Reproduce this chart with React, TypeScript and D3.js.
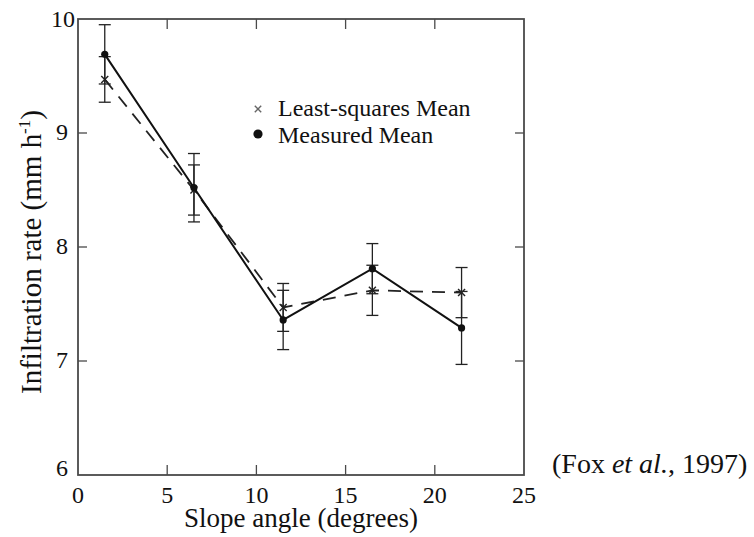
import React from 'react';
import { scaleLinear, line } from 'd3';

// slope angle (degrees) for each treatment
const slopes = [1.5, 6.5, 11.5, 16.5, 21.5];
// measured mean infiltration rate (mm/h) and half-length of its error bar
const measured = [9.69, 8.52, 7.36, 7.81, 7.29];
const measuredErr = [0.26, 0.3, 0.26, 0.22, 0.32];
// least-squares mean and half-length of its error bar
const lsMean = [9.47, 8.5, 7.47, 7.62, 7.6];
const lsErr = [0.2, 0.22, 0.21, 0.22, 0.22];

const xTicks = [0, 5, 10, 15, 20, 25];
const yTicks = [6, 7, 8, 9, 10];

const width = 754;
const height = 537;
const margin = { left: 78, right: 230, top: 19, bottom: 62 };

const Label = ({ size = 24, ...props }: any) => (
  <text fontFamily="Liberation Serif" fontSize={size} fill="#111"
    style={{ fontFamily: "'Liberation Serif'", fontSize: size }} {...props} />
);

const App = () => {
  const x = scaleLinear().domain([0, 25]).range([margin.left, width - margin.right]);
  const y = scaleLinear().domain([6, 10]).range([height - margin.bottom, margin.top]);
  const [x0, x1] = x.range();
  const [y0, y1] = y.range();

  const solid = line<number>()
    .x((d, i) => x(slopes[i]))
    .y(d => y(d));

  const cap = 6;
  const frameColor = '#4a4a4a';

  const errorBar = (xv: number, mean: number, err: number, key: string) => (
    <g key={key} stroke="#222" strokeWidth={1.3}>
      <line x1={x(xv)} x2={x(xv)} y1={y(mean + err)} y2={y(mean - err)} />
      <line x1={x(xv) - cap} x2={x(xv) + cap} y1={y(mean + err)} y2={y(mean + err)} />
      <line x1={x(xv) - cap} x2={x(xv) + cap} y1={y(mean - err)} y2={y(mean - err)} />
    </g>
  );

  const cross = (cx: number, cy: number, s: number, key: string, color = '#222') => (
    <g key={key} stroke={color} strokeWidth={1.4}>
      <line x1={cx - s} x2={cx + s} y1={cy - s} y2={cy + s} />
      <line x1={cx - s} x2={cx + s} y1={cy + s} y2={cy - s} />
    </g>
  );

  // y tick label placement: the top and bottom labels sit off the corners
  const yLabelPos = (t: number) => {
    if (t === 10) return { x: x0 - 3, y: y(t) + 8 };
    if (t === 6) return { x: x0 - 10, y: y(t) + 1 };
    return { x: x0 - 10, y: y(t) + 7 };
  };

  return (
    <div style={{ position: 'absolute', left: 0, top: 0, width, height }}>
      <svg width={width} height={height} fontFamily="Liberation Serif">
        <style>{"text { font-family: 'Liberation Serif'; }"}</style>
        {/* frame */}
        <rect x={x0} y={y1} width={x1 - x0} height={y0 - y1} fill="none" stroke={frameColor} strokeWidth={1.8} />

        {/* inward ticks */}
        {xTicks.slice(1, -1).map(t => (
          <g key={'xt' + t} stroke={frameColor} strokeWidth={1.3}>
            <line x1={x(t)} x2={x(t)} y1={y0} y2={y0 - 10} />
            <line x1={x(t)} x2={x(t)} y1={y1} y2={y1 + 10} />
          </g>
        ))}
        {yTicks.slice(1, -1).map(t => (
          <g key={'yt' + t} stroke={frameColor} strokeWidth={1.3}>
            <line x1={x0} x2={x0 + 9} y1={y(t)} y2={y(t)} />
            <line x1={x1} x2={x1 - 9} y1={y(t)} y2={y(t)} />
          </g>
        ))}

        {/* tick labels */}
        {xTicks.map(t => (
          <Label key={'xl' + t} x={x(t)} y={y0 + 28} textAnchor="middle">{t}</Label>
        ))}
        {yTicks.map(t => (
          <Label key={'yl' + t} {...yLabelPos(t)} textAnchor="end">{t}</Label>
        ))}

        {/* axis titles */}
        <Label size={27} x={(x0 + x1) / 2} y={527} textAnchor="middle">Slope angle (degrees)</Label>
        <Label size={29} transform={`translate(41,252) rotate(-90)`} textAnchor="middle">
          Infiltration rate (mm h<tspan dy={-11} fontSize={17} style={{ fontSize: 17 }}>-1</tspan><tspan dy={11}>)</tspan>
        </Label>

        {/* error bars */}
        {slopes.map((s, i) => errorBar(s, measured[i], measuredErr[i], 'em' + i))}
        {slopes.map((s, i) => errorBar(s, lsMean[i], lsErr[i], 'el' + i))}

        {/* least-squares mean (dashed) */}
        <path d={solid(lsMean) || ''} fill="none" stroke="#222" strokeWidth={1.8} strokeDasharray="13 9" />
        {slopes.map((s, i) => cross(x(s), y(lsMean[i]), 3.5, 'lx' + i))}

        {/* measured mean (solid) */}
        <path d={solid(measured) || ''} fill="none" stroke="#111" strokeWidth={2} />
        {slopes.map((s, i) => (
          <circle key={'m' + i} cx={x(s)} cy={y(measured[i])} r={3.6} fill="#111" />
        ))}

        {/* legend */}
        {cross(258, 109, 3.2, 'legx', '#666')}
        <Label x={278} y={116}>Least-squares Mean</Label>
        <circle cx={258} cy={134} r={4.6} fill="#111" />
        <Label x={278} y={143}>Measured Mean</Label>

        {/* source */}
        <Label size={28} x={552} y={473}>
          (Fox <tspan fontStyle="italic" style={{ fontStyle: 'italic' }}>et al.</tspan>, 1997)
        </Label>
      </svg>
    </div>
  );
};

export default App;
